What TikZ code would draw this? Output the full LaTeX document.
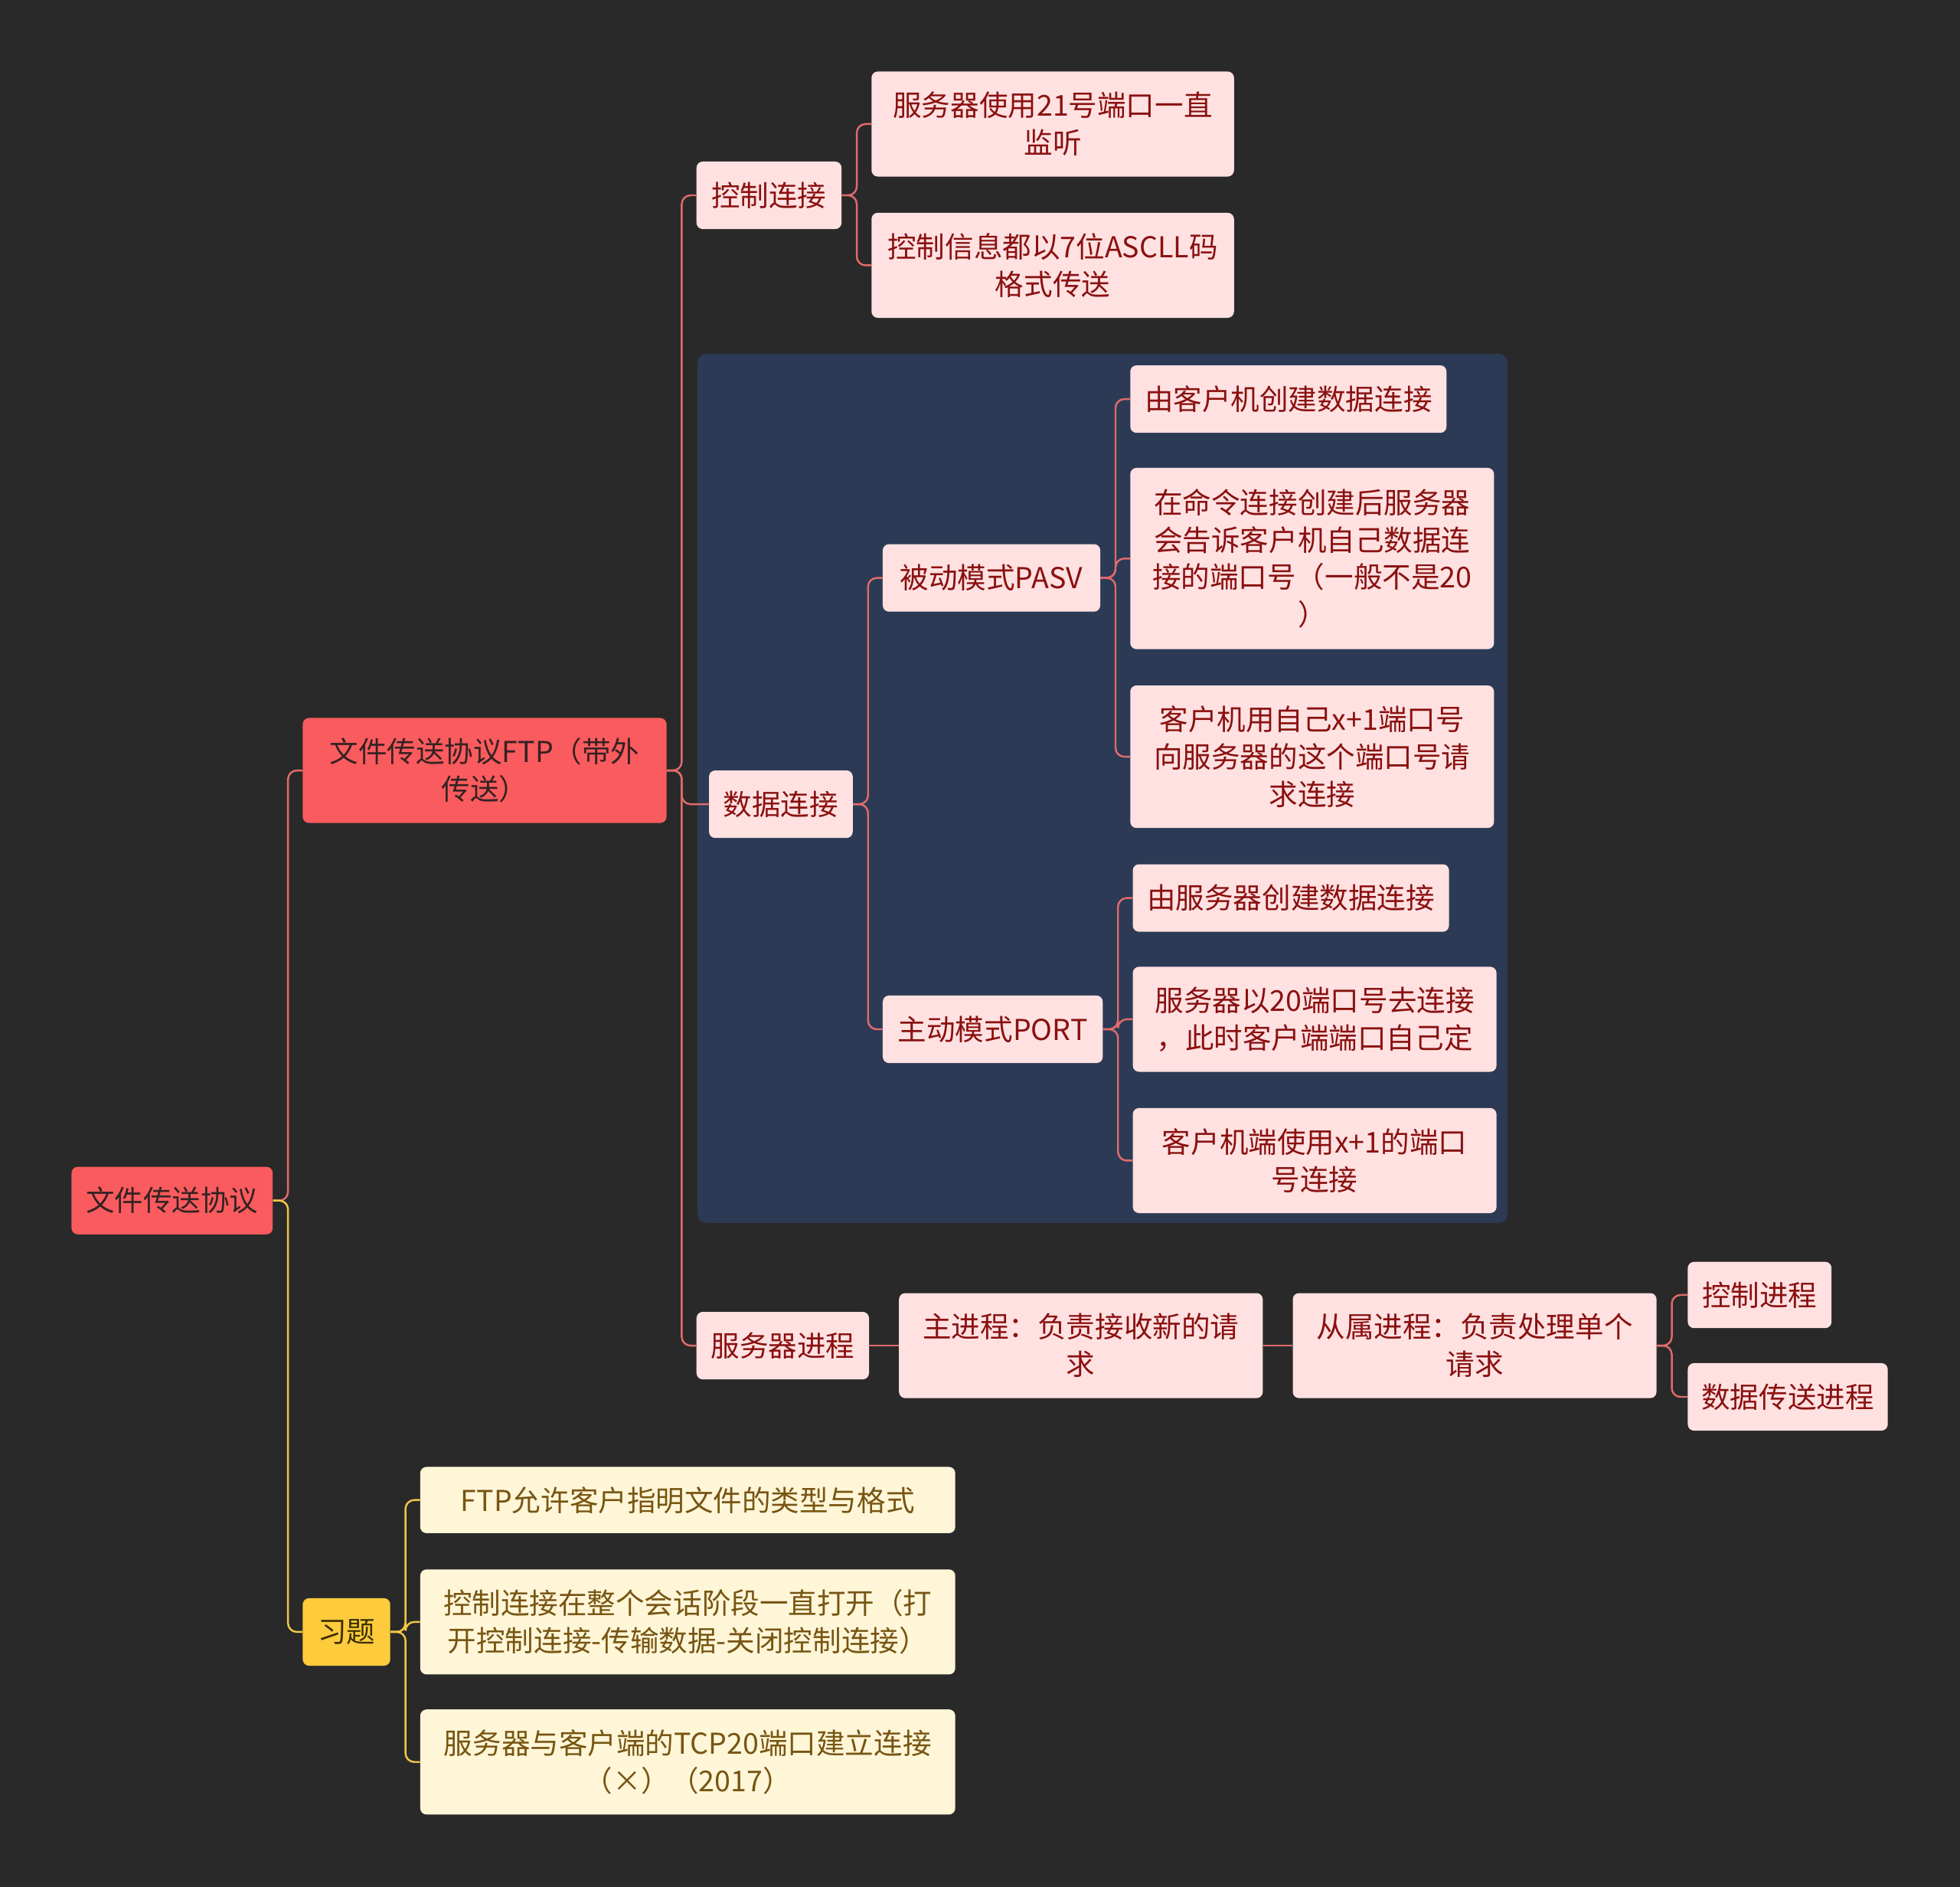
\documentclass[tikz,border=0pt]{standalone}
\usepackage{fontspec}
\setmainfont{Noto Sans CJK SC}
\definecolor{bgc}{HTML}{292929}
\definecolor{regionc}{HTML}{2C3A55}
\definecolor{redfill}{HTML}{FA5B5E}
\definecolor{redtext}{HTML}{352222}
\definecolor{pinkfill}{HTML}{FFE1E1}
\definecolor{pinktext}{HTML}{8A1010}
\definecolor{yelfill}{HTML}{FDCB3C}
\definecolor{yeltext}{HTML}{3A3000}
\definecolor{creamfill}{HTML}{FFF6D8}
\definecolor{creamtext}{HTML}{775512}
\definecolor{linered}{HTML}{E26B6B}
\definecolor{lineyel}{HTML}{F2C744}
\begin{document}
\begin{tikzpicture}[x=1pt,y=-1pt,
  box/.style={rounded corners=5pt, anchor=north west, inner sep=0pt, align=center,
    font=\fontsize{23}{30}\selectfont},
  redbox/.style={box, fill=redfill, text=redtext},
  pinkbox/.style={box, fill=pinkfill, text=pinktext},
  yelbox/.style={box, fill=yelfill, text=yeltext},
  creambox/.style={box, fill=creamfill, text=creamtext},
  rline/.style={draw=linered, line width=1.5pt, rounded corners=7pt},
  yline/.style={draw=lineyel, line width=1.5pt, rounded corners=7pt}
]
\useasboundingbox (0,0) rectangle (1568,1509);
\fill[bgc] (0,0) rectangle (1568,1509);
\fill[regionc, rounded corners=7pt] (558,283) rectangle (1206,978);

% level 0 / 1
\node[redbox, minimum width=161, minimum height=54] (root) at (57,933) {文件传送协议};
\node[redbox, minimum width=291, minimum height=84] (ftp) at (242,574) {文件传送协议FTP（带外\\传送）};
\node[yelbox, minimum width=70, minimum height=54] (ex) at (242,1278) {习题};

% level 2
\node[pinkbox, minimum width=116, minimum height=54] (ctl) at (557,129) {控制连接};
\node[pinkbox, minimum width=115, minimum height=54] (data) at (567,616) {数据连接};
\node[pinkbox, minimum width=138, minimum height=54] (srv) at (557,1049) {服务器进程};

% control children
\node[pinkbox, minimum width=290, minimum height=84] (c1) at (697,57) {服务器使用21号端口一直\\监听};
\node[pinkbox, minimum width=290, minimum height=84] (c2) at (697,170) {控制信息都以7位ASCLL码\\格式传送};

% data children
\node[pinkbox, minimum width=174, minimum height=54] (pasv) at (706,435) {被动模式PASV};
\node[pinkbox, minimum width=176, minimum height=54] (port) at (706,796) {主动模式PORT};

\node[pinkbox, minimum width=253, minimum height=54] (p1) at (904,292) {由客户机创建数据连接};
\node[pinkbox, minimum width=291, minimum height=145] (p2) at (904,374) {在命令连接创建后服务器\\会告诉客户机自己数据连\\接的端口号（一般不是20\\）};
\node[pinkbox, minimum width=291, minimum height=114] (p3) at (904,548) {客户机用自己x+1端口号\\向服务器的这个端口号请\\求连接};

\node[pinkbox, minimum width=253, minimum height=54] (a1) at (906,691) {由服务器创建数据连接};
\node[pinkbox, minimum width=291, minimum height=84] (a2) at (906,773) {服务器以20端口号去连接\\，此时客户端端口自己定};
\node[pinkbox, minimum width=291, minimum height=84] (a3) at (906,886) {客户机端使用x+1的端口\\号连接};

% server process chain
\node[pinkbox, minimum width=291, minimum height=84] (m1) at (719,1034) {主进程：负责接收新的请\\求};
\node[pinkbox, minimum width=291, minimum height=84] (m2) at (1034,1034) {从属进程：负责处理单个\\请求};
\node[pinkbox, minimum width=115, minimum height=53] (s1) at (1350,1009) {控制进程};
\node[pinkbox, minimum width=160, minimum height=54] (s2) at (1350,1090) {数据传送进程};

% exercises
\node[creambox, minimum width=428, minimum height=53] (e1) at (336,1173) {FTP允许客户指明文件的类型与格式};
\node[creambox, minimum width=428, minimum height=84] (e2) at (336,1255) {控制连接在整个会话阶段一直打开（打\\开控制连接-传输数据-关闭控制连接）};
\node[creambox, minimum width=428, minimum height=84] (e3) at (336,1367) {服务器与客户端的TCP20端口建立连接\\（×）（2017）};

% connectors
\draw[rline] (root.east) -- ([xshift=12pt]root.east) |- (ftp.west);
\draw[yline] (root.east) -- ([xshift=12pt]root.east) |- (ex.west);

\foreach \c in {ctl,data,srv}
  \draw[rline] (ftp.east) -- ([xshift=12pt]ftp.east) |- (\c.west);
\foreach \c in {c1,c2}
  \draw[rline] (ctl.east) -- ([xshift=12pt]ctl.east) |- (\c.west);
\foreach \c in {pasv,port}
  \draw[rline] (data.east) -- ([xshift=12pt]data.east) |- (\c.west);
\foreach \c in {p1,p2,p3}
  \draw[rline] (pasv.east) -- ([xshift=12pt]pasv.east) |- (\c.west);
\foreach \c in {a1,a2,a3}
  \draw[rline] (port.east) -- ([xshift=12pt]port.east) |- (\c.west);
\draw[rline] (srv.east) -- (m1.west);
\draw[rline] (m1.east) -- (m2.west);
\foreach \c in {s1,s2}
  \draw[rline] (m2.east) -- ([xshift=12pt]m2.east) |- (\c.west);
\foreach \c in {e1,e2,e3}
  \draw[yline] (ex.east) -- ([xshift=12pt]ex.east) |- (\c.west);
\end{tikzpicture}
\end{document}
